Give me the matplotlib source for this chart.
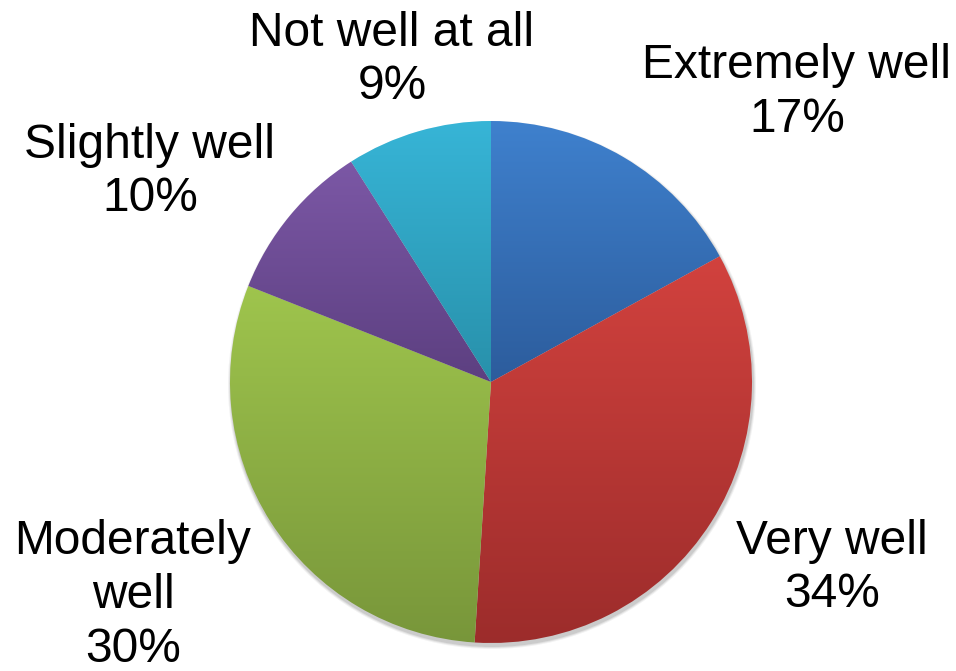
import numpy as np
import matplotlib
matplotlib.use("Agg")
import matplotlib.pyplot as plt
from matplotlib.patches import Wedge, Circle
from matplotlib.colors import LinearSegmentedColormap

# data, clockwise from 12 o'clock
labels = ["Extremely well", "Very well", "Moderately\nwell", "Slightly well", "Not well at all"]
values = [17, 34, 30, 10, 9]
top_colors = ["#3F81CE", "#D2423E", "#9FC54D", "#7C58A6", "#37B5D7"]
bottom_colors = ["#2C5C9C", "#9C2C2B", "#78963A", "#5C3F80", "#2890AA"]

# label centres in pixels (x, y of first line)
label_pos = [(797, 66), (832, 541), (133, 542), (150, 145), (392, 33)]

W, H = 956, 671
fig = plt.figure(figsize=(W / 100, H / 100), dpi=100)
ax = fig.add_axes([0, 0, 1, 1])
ax.set_xlim(0, W)
ax.set_ylim(0, H)
ax.set_aspect("equal")
ax.axis("off")

cx, cy, r = 491, H - 382, 261

# soft shadow under the pie
for k, a in enumerate([0.05, 0.07, 0.09]):
    ax.add_patch(Circle((cx + 1, cy - 3), r + 3 - k, color="black", alpha=a, lw=0, zorder=1))

angle = 90.0
for lab, v, c1, c2, (px, py) in zip(labels, values, top_colors, bottom_colors, label_pos):
    span = 360.0 * v / sum(values)
    w = Wedge((cx, cy), r, angle - span, angle, lw=0, facecolor="none", zorder=2)
    ax.add_patch(w)
    # vertical gradient over the wedge's own extent
    th = np.radians(np.linspace(angle - span, angle, 100))
    ys = np.concatenate([[cy], cy + r * np.sin(th)])
    xs = np.concatenate([[cx], cx + r * np.cos(th)])
    cmap = LinearSegmentedColormap.from_list("g", [c2, c1])
    grad = np.linspace(0, 1, 256).reshape(-1, 1)
    im = ax.imshow(grad, cmap=cmap, origin="lower", aspect="auto",
                   extent=[xs.min() - 2, xs.max() + 2, ys.min() - 2, ys.max() + 2],
                   zorder=3, interpolation="bilinear")
    im.set_clip_path(w)
    angle -= span

    # label lines, one text per line so spacing matches
    txt = lab.split("\n") + [str(v) + "%"]
    for i, t in enumerate(txt):
        ax.text(px, H - (py + i * 53.5), t, ha="center", va="center",
                fontsize=34.5, family="Liberation Sans", zorder=5)

ax.set_xlim(0, W)
ax.set_ylim(0, H)
fig.savefig("out.png", dpi=100)
